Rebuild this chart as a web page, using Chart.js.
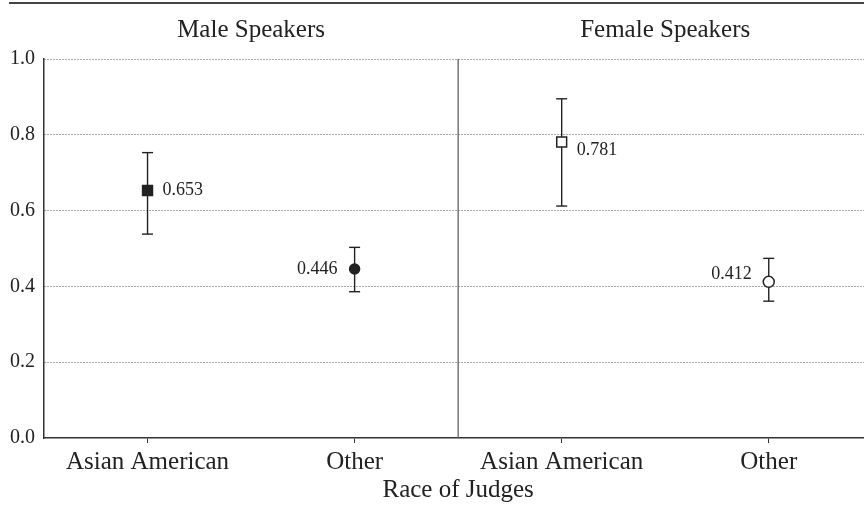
<!DOCTYPE html>
<html>
<head>
<meta charset="utf-8">
<script src="https://cdn.jsdelivr.net/npm/chart.js@4.4.1/dist/chart.umd.min.js"></script>
<style>
  html, body { margin: 0; padding: 0; background: #fff; }
  #wrap { width: 864px; height: 510px; }
</style>
</head>
<body>
<div id="wrap"><canvas id="c" width="864" height="510"></canvas></div>
<script>
// Judge groups along the x axis (two per speaker panel)
const categories = ['Asian American', 'Other', 'Asian American', 'Other'];
const panelTitles = ['Male Speakers', 'Female Speakers'];
const axisTitle = 'Race of Judges';

// Proportions with their interval bounds
const means = [0.653, 0.446, 0.781, 0.412];
const lower = [0.538, 0.386, 0.612, 0.361];
const upper = [0.753, 0.503, 0.895, 0.474];

// Y axis tick values
const yTickValues = [0.0, 0.2, 0.4, 0.6, 0.8, 1.0];

const INK = '#222';
const FONT = "'Liberation Serif', 'Times New Roman', serif";

// Marker look per group: filled for male speakers, hollow for female
const markerStyles = ['rect', 'circle', 'rect', 'circle'];
const markerFills = [INK, INK, '#fff', '#fff'];
const markerRadii = [7, 5, 7, 5.5];

// Where each value label sits relative to its marker
const labelSide = ['right', 'left', 'right', 'left'];
const labelDy = [0, 0, 8, -8];

const xs = categories.map((c, i) => i + 1);

const markerSet = {
  type: 'line',
  showLine: false,
  data: xs.map((x, i) => ({ x: x, y: means[i] })),
  pointStyle: markerStyles,
  pointRadius: markerRadii,
  pointHoverRadius: markerRadii,
  pointBackgroundColor: markerFills,
  pointBorderColor: INK,
  pointBorderWidth: 1.5
};

// Whiskers: a two-point line per group, the 'line' point style gives the caps
const whiskerSets = xs.map((x, i) => ({
  type: 'line',
  data: [{ x: x, y: lower[i] }, { x: x, y: upper[i] }],
  borderColor: INK,
  borderWidth: 1.4,
  pointStyle: 'line',
  pointRadius: 5.5,
  pointHoverRadius: 5.5,
  pointBorderColor: INK,
  pointBorderWidth: 1.4
}));

// Separator between the two speaker panels
const dividerSet = {
  type: 'line',
  data: [{ x: 2.5, y: 0 }, { x: 2.5, y: 1 }],
  borderColor: '#555',
  borderWidth: 1.2,
  pointRadius: 0
};

const decorations = {
  id: 'decorations',
  afterDraw(chart) {
    const ctx = chart.ctx;
    const xScale = chart.scales.x;
    const yScale = chart.scales.y;
    ctx.save();

    // rule across the top
    ctx.strokeStyle = '#444';
    ctx.lineWidth = 2;
    ctx.beginPath();
    ctx.moveTo(9, 3);
    ctx.lineTo(chart.width, 3);
    ctx.stroke();

    ctx.fillStyle = INK;
    ctx.textBaseline = 'alphabetic';
    ctx.textAlign = 'center';
    ctx.font = '25px ' + FONT;
    panelTitles.forEach((t, p) => {
      ctx.fillText(t, xScale.getPixelForValue(1.5 + 2 * p), 37);
    });

    ctx.fillText(axisTitle, xScale.getPixelForValue(2.5), 497);

    // value labels beside the markers
    ctx.font = '18px ' + FONT;
    ctx.textBaseline = 'middle';
    means.forEach((m, i) => {
      const px = xScale.getPixelForValue(xs[i]);
      const py = yScale.getPixelForValue(m) + labelDy[i];
      if (labelSide[i] === 'right') {
        ctx.textAlign = 'left';
        ctx.fillText(m.toFixed(3), px + 15, py);
      } else {
        ctx.textAlign = 'right';
        ctx.fillText(m.toFixed(3), px - 17, py);
      }
    });
    ctx.restore();
  }
};

new Chart(document.getElementById('c'), {
  type: 'line',
  data: { datasets: [markerSet, ...whiskerSets, dividerSet] },
  options: {
    responsive: false,
    animation: false,
    devicePixelRatio: 1,
    layout: { autoPadding: false, padding: { top: 59, right: 0, bottom: 0, left: 0 } },
    plugins: { legend: { display: false }, tooltip: { enabled: false } },
    events: [],
    scales: {
      x: {
        type: 'linear',
        min: 0.5,
        max: 4.46,
        afterBuildTicks(scale) { scale.ticks = xs.map(v => ({ value: v })); },
        afterFit(scale) {
          scale.height = 72;
          scale.paddingLeft = 0;
          scale.paddingRight = 0;
        },
        ticks: {
          autoSkip: false,
          maxRotation: 0,
          padding: 4,
          color: INK,
          font: { family: FONT, size: 25 },
          callback: (v, i) => categories[i]
        },
        grid: { drawOnChartArea: false, drawTicks: true, tickLength: 5, color: '#333', lineWidth: 1 },
        border: { display: true, color: '#333', width: 1.5 }
      },
      y: {
        min: 0,
        max: 1,
        afterBuildTicks(scale) { scale.ticks = yTickValues.map(v => ({ value: v })); },
        afterFit(scale) { scale.width = 44; },
        ticks: {
          padding: 9,
          color: INK,
          font: { family: FONT, size: 20 },
          callback: v => Number(v).toFixed(1)
        },
        grid: {
          drawTicks: false,
          color: ctx => (ctx.tick && ctx.tick.value === 0 ? 'rgba(0,0,0,0)' : '#555'),
          lineWidth: 1
        },
        border: { display: true, color: '#333', width: 1.5, dash: [1, 2] }
      }
    }
  },
  plugins: [decorations]
});
</script>
</body>
</html>
